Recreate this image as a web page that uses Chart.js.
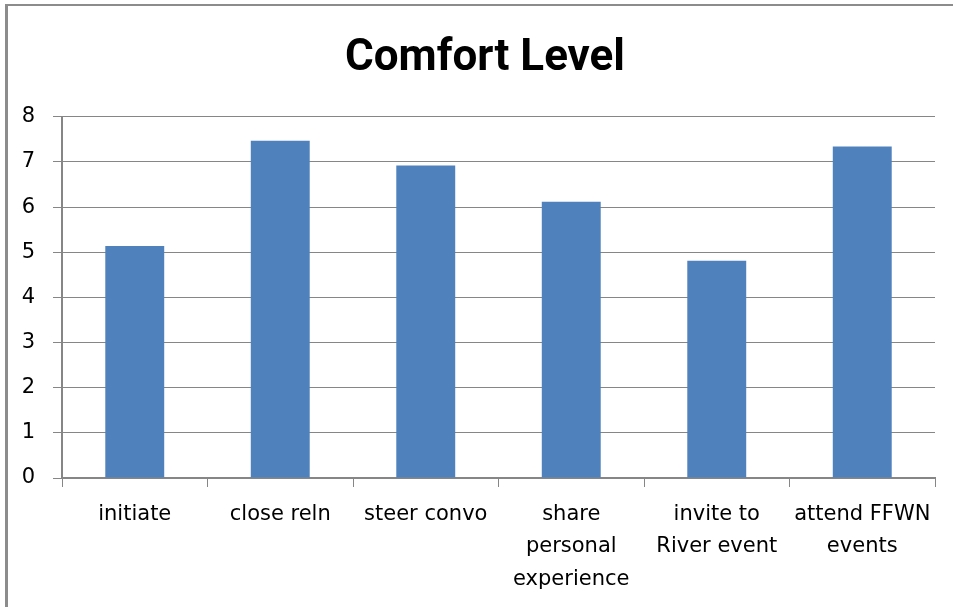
<!DOCTYPE html>
<html>
<head>
<meta charset="utf-8">
<script src="https://cdn.jsdelivr.net/npm/chart.js@4/dist/chart.umd.min.js"></script>
<style>
  html, body { margin: 0; padding: 0; background: #fff; }
  canvas { display: block; }
</style>
</head>
<body>
<canvas id="c" width="953" height="607"></canvas>
<script>
const titleText = 'Comfort Level';
const categories = [
  'initiate',
  'close reln',
  'steer convo',
  ['share', 'personal', 'experience'],
  ['invite to', 'River event'],
  ['attend FFWN', 'events']
];
const comfortValues = [5.14, 7.47, 6.92, 6.12, 4.81, 7.34];
const yTickLabels = ['0', '1', '2', '3', '4', '5', '6', '7', '8'];

const gridColor = '#868686';

const framePlugin = {
  id: 'frame',
  afterLayout(chart) {
    const t = chart.titleBlock;
    if (t) { t.left = 35; t.right = 935; t.width = 900; }
  },
  beforeDraw(chart) {
    const ctx = chart.ctx;
    ctx.save();
    ctx.fillStyle = '#fff';
    ctx.fillRect(0, 0, chart.width, chart.height);
    ctx.fillStyle = '#8c8c8c';
    ctx.fillRect(5, 4, 3, chart.height - 4);
    ctx.fillRect(5, 4, chart.width - 5, 2);
    ctx.restore();
  }
};

new Chart(document.getElementById('c'), {
  type: 'bar',
  data: {
    labels: categories,
    datasets: [{
      label: 'Comfort Level',
      data: comfortValues,
      backgroundColor: '#4F81BD',
      borderWidth: 0,
      categoryPercentage: 1,
      barPercentage: 0.405
    }]
  },
  options: {
    responsive: false,
    animation: false,
    layout: { padding: { left: 0, right: 18, top: 0, bottom: 0 } },
    plugins: {
      legend: { display: false },
      tooltip: { enabled: false },
      title: {
        display: true,
        text: titleText,
        color: '#000',
        font: { family: 'Roboto', size: 44, weight: 'bold', lineHeight: 1.2 },
        padding: { top: 33, bottom: 31 }
      }
    },
    scales: {
      x: {
        afterFit(scale) { scale.height = 129; },
        grid: {
          offset: true,
          drawOnChartArea: false,
          drawTicks: true,
          tickLength: 9,
          color: gridColor,
          lineWidth: 1
        },
        border: { display: true, color: gridColor, width: 2 },
        ticks: {
          color: '#000',
          padding: 11,
          maxRotation: 0,
          autoSkip: false,
          font: { family: 'DejaVu Sans', size: 21, lineHeight: 1.55 }
        }
      },
      y: {
        min: 0,
        max: 8,
        afterFit(scale) { scale.width = 62; },
        grid: {
          drawTicks: true,
          tickLength: 9,
          color: gridColor,
          lineWidth: 1
        },
        border: { display: true, color: gridColor, width: 2 },
        ticks: {
          stepSize: 1,
          autoSkip: false,
          color: '#000',
          padding: 18,
          font: { family: 'DejaVu Sans', size: 21 },
          callback: (v) => yTickLabels[v] !== undefined ? yTickLabels[v] : ''
        }
      }
    }
  },
  plugins: [framePlugin]
});
</script>
</body>
</html>
